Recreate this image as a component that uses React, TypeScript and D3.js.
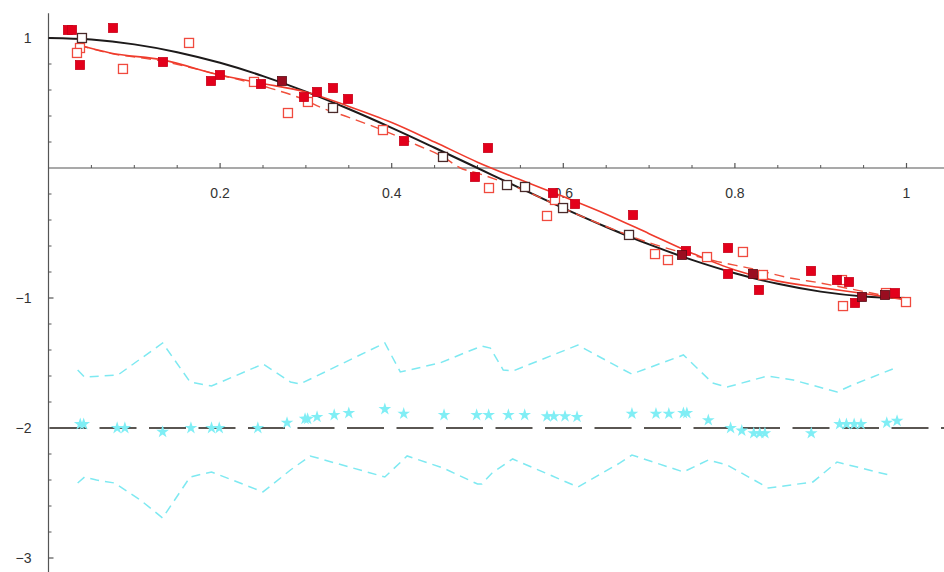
import React from "react";
import * as d3 from "d3";

// ---- data ----
const trueX = [0, 0.05, 0.1, 0.15, 0.2, 0.25, 0.3, 0.35, 0.4, 0.45, 0.5, 0.55, 0.6, 0.65, 0.7, 0.75, 0.8, 0.85, 0.9, 0.95, 1];
const trueY = [1, 0.988, 0.951, 0.891, 0.809, 0.707, 0.588, 0.454, 0.309, 0.156, 0, -0.156, -0.309, -0.454, -0.588, -0.707, -0.809, -0.891, -0.951, -0.988, -1];

const fitX = [0.035, 0.072, 0.134, 0.2, 0.246, 0.3, 0.35, 0.4, 0.45, 0.5, 0.55, 0.6, 0.65, 0.7, 0.75, 0.8, 0.85, 0.9, 0.95, 1.004];
const fitY = [0.946, 0.885, 0.83, 0.715, 0.654, 0.585, 0.474, 0.35, 0.2, 0.045, -0.09, -0.22, -0.355, -0.505, -0.655, -0.785, -0.87, -0.92, -0.965, -1.02];

const fit2X = [0.035, 0.07, 0.13, 0.2, 0.258, 0.3, 0.316, 0.35, 0.39, 0.43, 0.46, 0.48, 0.5, 0.55, 0.6, 0.65, 0.7, 0.75, 0.78, 0.82, 0.86, 0.9, 0.95, 1.004];
const fit2Y = [0.946, 0.885, 0.825, 0.715, 0.615, 0.52, 0.47, 0.39, 0.29, 0.175, 0.085, 0.0, -0.04, -0.16, -0.31, -0.45, -0.575, -0.67, -0.72, -0.775, -0.84, -0.885, -0.95, -1.02];

const filledX = [0.0227, 0.0274, 0.0752, 0.0367, 0.1335, 0.1894, 0.1999, 0.2477, 0.2978, 0.313, 0.3316, 0.3491, 0.4143, 0.5122, 0.4971, 0.588, 0.6137, 0.6813, 0.743, 0.792, 0.792, 0.8281, 0.8887, 0.919, 0.933, 0.94, 0.9866];
const filledY = [1.062, 1.062, 1.077, 0.792, 0.815, 0.669, 0.715, 0.646, 0.546, 0.585, 0.615, 0.531, 0.208, 0.154, -0.069, -0.192, -0.277, -0.362, -0.638, -0.615, -0.815, -0.938, -0.792, -0.862, -0.877, -1.038, -0.962];

const darkX = [0.2721, 0.7383, 0.8211, 0.9481, 0.9749];
const darkY = [0.669, -0.669, -0.815, -0.992, -0.977];

const openX = [0.0367, 0.0332, 0.0868, 0.1638, 0.2395, 0.2791, 0.3024, 0.3898, 0.5134, 0.581, 0.5903, 0.7069, 0.722, 0.7675, 0.8094, 0.8327, 0.9248, 0.926, 0.9761, 0.9994];
const openY = [0.923, 0.885, 0.762, 0.962, 0.662, 0.423, 0.508, 0.292, -0.154, -0.369, -0.246, -0.662, -0.708, -0.685, -0.646, -0.823, -0.862, -1.062, -0.962, -1.031];

const openBlackX = [0.039, 0.3316, 0.4598, 0.5344, 0.5554, 0.5997, 0.6766];
const openBlackY = [1.0, 0.462, 0.085, -0.131, -0.146, -0.308, -0.515];

const upperX = [0.034, 0.042, 0.081, 0.133, 0.165, 0.19, 0.25, 0.282, 0.293, 0.392, 0.41, 0.456, 0.505, 0.515, 0.53, 0.541, 0.617, 0.666, 0.68, 0.74, 0.774, 0.791, 0.838, 0.868, 0.919, 0.937, 0.984];
const upperY = [-1.554, -1.608, -1.592, -1.346, -1.646, -1.677, -1.508, -1.646, -1.662, -1.346, -1.569, -1.5, -1.369, -1.385, -1.554, -1.562, -1.362, -1.538, -1.585, -1.438, -1.654, -1.685, -1.6, -1.631, -1.723, -1.669, -1.546];

const lowerX = [0.034, 0.042, 0.056, 0.077, 0.107, 0.133, 0.165, 0.19, 0.25, 0.282, 0.305, 0.392, 0.418, 0.46, 0.5, 0.505, 0.517, 0.541, 0.617, 0.666, 0.68, 0.74, 0.769, 0.791, 0.839, 0.891, 0.919, 0.984];
const lowerY = [-2.423, -2.377, -2.4, -2.423, -2.554, -2.692, -2.377, -2.338, -2.492, -2.323, -2.215, -2.377, -2.215, -2.308, -2.431, -2.431, -2.346, -2.238, -2.454, -2.269, -2.208, -2.338, -2.246, -2.285, -2.462, -2.415, -2.262, -2.369];

const starX = [0.037, 0.041, 0.08, 0.089, 0.133, 0.166, 0.19, 0.199, 0.244, 0.278, 0.299, 0.302, 0.313, 0.333, 0.35, 0.392, 0.414, 0.461, 0.499, 0.513, 0.536, 0.555, 0.581, 0.589, 0.602, 0.616, 0.68, 0.708, 0.723, 0.74, 0.744, 0.769, 0.795, 0.808, 0.822, 0.829, 0.835, 0.889, 0.922, 0.93, 0.939, 0.947, 0.977, 0.989];
const starY = [-1.97, -1.97, -2.0, -2.0, -2.03, -2.0, -2.0, -2.0, -2.0, -1.96, -1.93, -1.93, -1.915, -1.9, -1.885, -1.855, -1.89, -1.9, -1.9, -1.9, -1.9, -1.9, -1.91, -1.91, -1.91, -1.915, -1.89, -1.89, -1.89, -1.885, -1.885, -1.94, -2.0, -2.02, -2.04, -2.04, -2.04, -2.04, -1.97, -1.97, -1.97, -1.97, -1.96, -1.945];

const xTicks = [0.2, 0.4, 0.6, 0.8, 1];
const xTickLabels = ["0.2", "0.4", "0.6", "0.8", "1"];
const yTicks = [1, -1, -2, -3];
const yTickLabels = ["1", "\u22121", "\u22122", "\u22123"];
const baseLevel = -2;

const W = 944;
const H = 572;

export default function App() {
  const x = d3.scaleLinear().domain([0, 1]).range([48.5, 906.5]);
  const y = d3.scaleLinear().domain([1, -3]).range([38, 558]);

  const zip = (xs: number[], ys: number[]) => xs.map((v, i) => [v, ys[i]] as [number, number]);
  const lineSmooth = d3
    .line<[number, number]>()
    .x((d) => x(d[0]))
    .y((d) => y(d[1]))
    .curve(d3.curveMonotoneX);
  const lineLin = d3
    .line<[number, number]>()
    .x((d) => x(d[0]))
    .y((d) => y(d[1]));

  const xMinor = d3.range(0.05, 1.04, 0.05).filter((v) => Math.abs(v * 5 - Math.round(v * 5)) > 1e-6);
  const yMinor = d3.range(-3.0, 1.2, 0.2).filter((v) => Math.abs(v - Math.round(v)) > 1e-6);

  const starPath = d3.symbol().type(d3.symbolStar).size(50)() || "";
  const sq = 9;
  const font = "'Liberation Sans', Arial, Helvetica, sans-serif";

  return (
    <svg width={W} height={H} style={{ position: "absolute", left: 0, top: 0, background: "#fff" }}>
      {/* axes */}
      <line x1={x(0)} x2={W} y1={y(0)} y2={y(0)} stroke="#555" strokeWidth={1.2} />
      <line x1={x(0)} x2={x(0)} y1={y(1.19)} y2={H} stroke="#555" strokeWidth={1.2} />
      {xMinor.map((v, i) => (
        <line key={"xm" + i} x1={x(v)} x2={x(v)} y1={y(0)} y2={y(0) - 3} stroke="#555" strokeWidth={1} />
      ))}
      {xTicks.map((v, i) => (
        <g key={"xt" + i}>
          <line x1={x(v)} x2={x(v)} y1={y(0)} y2={y(0) - 5} stroke="#555" strokeWidth={1.2} />
          <text x={x(v)} y={y(0) + 30} textAnchor="middle" fontFamily={font} fontSize={14} fill="#333">
            {xTickLabels[i]}
          </text>
        </g>
      ))}
      {yMinor.map((v, i) => (
        <line key={"ym" + i} x1={x(0)} x2={x(0) + 3} y1={y(v)} y2={y(v)} stroke="#555" strokeWidth={1} />
      ))}
      {yTicks.map((v, i) => (
        <g key={"yt" + i}>
          <line x1={x(0)} x2={x(0) + 5} y1={y(v)} y2={y(v)} stroke="#555" strokeWidth={1.2} />
          <text x={x(0) - 17} y={y(v) + 5} textAnchor="end" fontFamily={font} fontSize={14} fill="#333">
            {yTickLabels[i]}
          </text>
        </g>
      ))}

      {/* residual band */}
      <path d={lineLin(zip(upperX, upperY)) || ""} fill="none" stroke="#7ee9f1" strokeWidth={1.5} strokeDasharray="9,6" />
      <path d={lineLin(zip(lowerX, lowerY)) || ""} fill="none" stroke="#7ee9f1" strokeWidth={1.5} strokeDasharray="9,6" />
      <line x1={x(0) + 1.5} x2={W} y1={y(baseLevel)} y2={y(baseLevel)} stroke="#5a5652" strokeWidth={2.2} strokeDasharray="37,12.5" />
      {starX.map((v, i) => (
        <path key={"s" + i} d={starPath} transform={`translate(${x(v)},${y(starY[i])})`} fill="#80eef5" />
      ))}

      {/* curves */}
      <path d={lineSmooth(zip(trueX, trueY)) || ""} fill="none" stroke="#1d1a1a" strokeWidth={2} />
      <path d={lineSmooth(zip(fit2X, fit2Y)) || ""} fill="none" stroke="#f0503c" strokeWidth={1.4} strokeDasharray="10,6" />
      <path d={lineSmooth(zip(fitX, fitY)) || ""} fill="none" stroke="#ef3b2c" strokeWidth={1.6} />

      {/* markers */}
      {openX.map((v, i) => (
        <rect key={"o" + i} x={x(v) - sq / 2} y={y(openY[i]) - sq / 2} width={sq} height={sq} fill="#fff" stroke="#f04a3e" strokeWidth={1.3} />
      ))}
      {openBlackX.map((v, i) => (
        <rect key={"ob" + i} x={x(v) - sq / 2} y={y(openBlackY[i]) - sq / 2} width={sq} height={sq} fill="#fff" stroke="#4a2a2a" strokeWidth={1.3} />
      ))}
      {filledX.map((v, i) => (
        <rect key={"f" + i} x={x(v) - sq / 2} y={y(filledY[i]) - sq / 2} width={sq} height={sq} fill="#e3001b" stroke="#c80018" strokeWidth={0.8} />
      ))}
      {darkX.map((v, i) => (
        <rect key={"d" + i} x={x(v) - sq / 2} y={y(darkY[i]) - sq / 2} width={sq} height={sq} fill="#9a0d20" stroke="#5a0a14" strokeWidth={0.8} />
      ))}
    </svg>
  );
}
